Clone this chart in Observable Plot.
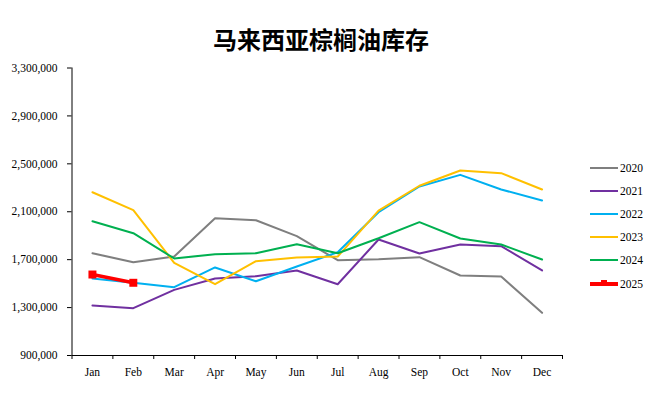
<!DOCTYPE html>
<html><head><meta charset="utf-8">
<script src="https://cdn.jsdelivr.net/npm/d3@7"></script>
<script src="https://cdn.jsdelivr.net/npm/@observablehq/plot@0.6"></script>
<style>
body{margin:0;background:#fff;width:656px;height:396px;overflow:hidden;position:relative;}
#title{height:52px;position:relative;}
#title span{position:absolute;left:213px;top:25px;font-family:"Noto Sans CJK SC";font-size:24px;line-height:28px;font-weight:bold;color:#000;white-space:nowrap;}
#legend{position:absolute;left:590px;top:0;font-family:"Liberation Serif";font-size:11.5px;color:#000;}
.row{position:absolute;left:0;width:70px;height:14px;}
.sw{position:absolute;left:0;top:6px;width:28px;height:2px;}
.lab{position:absolute;left:30px;top:0;line-height:14px;}
</style></head>
<body>
<div id="title"><span>马来西亚棕榈油库存</span></div>
<div id="chart"></div>
<div id="legend"></div>
<script>
const months = ["Jan","Feb","Mar","Apr","May","Jun","Jul","Aug","Sep","Oct","Nov","Dec"];
const years = ["2020","2021","2022","2023","2024","2025"];
const colors = ["#7f7f7f","#7030a0","#00b0f0","#ffc000","#00b050","#ff0000"];
const yTicks = [900000,1300000,1700000,2100000,2500000,2900000,3300000];
const v2020 = [1754000,1679000,1726000,2046000,2029000,1896000,1696000,1704000,1721000,1568000,1559000,1256000];
const v2021 = [1317000,1295000,1448000,1543000,1562000,1610000,1495000,1868000,1751000,1827000,1813000,1610000];
const v2022 = [1543000,1507000,1470000,1635000,1520000,1643000,1762000,2096000,2311000,2408000,2286000,2194000];
const v2023 = [2263000,2113000,1674000,1495000,1687000,1718000,1726000,2110000,2317000,2444000,2422000,2286000];
const v2024 = [2021000,1921000,1710000,1746000,1754000,1829000,1754000,1879000,2013000,1877000,1827000,1701000];
const v2025 = [1576000,1507000];

const series = [v2020,v2021,v2022,v2023,v2024,v2025];
const data = [];
series.forEach((vals,si)=>vals.forEach((v,i)=>data.push({year:years[si],m:i+0.5,v})));
const fmt = d3.format(",");

const chart = Plot.plot({
  width:656, height:344,
  marginLeft:71.5, marginRight:94, marginTop:15.5, marginBottom:41,
  x:{domain:[0,12]},
  y:{domain:[900000,3300000]},
  color:{domain:years, range:colors},
  style:{fontFamily:"Liberation Serif", fontSize:"11.5px", color:"#000", background:"#fff"},
  marks:[
    Plot.axisY({ticks:yTicks, tickSize:4.5, tickPadding:10, tickFormat:fmt, label:null, stroke:"#000", strokeWidth:1}),
    Plot.axisX({ticks:d3.range(0,13), tickSize:4, tickFormat:()=>"", label:null, stroke:"#000"}),
    Plot.axisX({ticks:months.map((_,i)=>i+0.5), tickSize:0, tickPadding:12, tickFormat:d=>months[Math.floor(d)], label:null}),
    Plot.ruleY([900000],{stroke:"#000"}),
    Plot.ruleX([0],{stroke:"#000"}),
    Plot.line(data.filter(d=>d.year!=="2025"),{x:"m",y:"v",z:"year",stroke:"year",strokeWidth:2}),
    Plot.line(data.filter(d=>d.year==="2025"),{x:"m",y:"v",stroke:"year",strokeWidth:3.5}),
    Plot.dot(data.filter(d=>d.year==="2025"),{x:"m",y:"v",fill:"year",symbol:"square",r:4.5})
  ]
});
document.getElementById("chart").appendChild(chart);

const leg = document.getElementById("legend");
const tops = [168,191,214,237,260,284];
years.forEach((y,i)=>{
  const r = document.createElement("div");
  r.className="row"; r.style.top=(tops[i]-7)+"px";
  const sw = document.createElement("div"); sw.className="sw"; sw.style.background=colors[i];
  if(y==="2025"){sw.style.height="4px";sw.style.top="5px";
    const mk=document.createElement("div");mk.style.cssText="position:absolute;left:11px;top:3px;width:6px;height:4px;background:"+colors[i];r.appendChild(mk);}
  const lb = document.createElement("div"); lb.className="lab"; lb.textContent=y;
  r.appendChild(sw); r.appendChild(lb); leg.appendChild(r);
});
</script>
</body></html>
